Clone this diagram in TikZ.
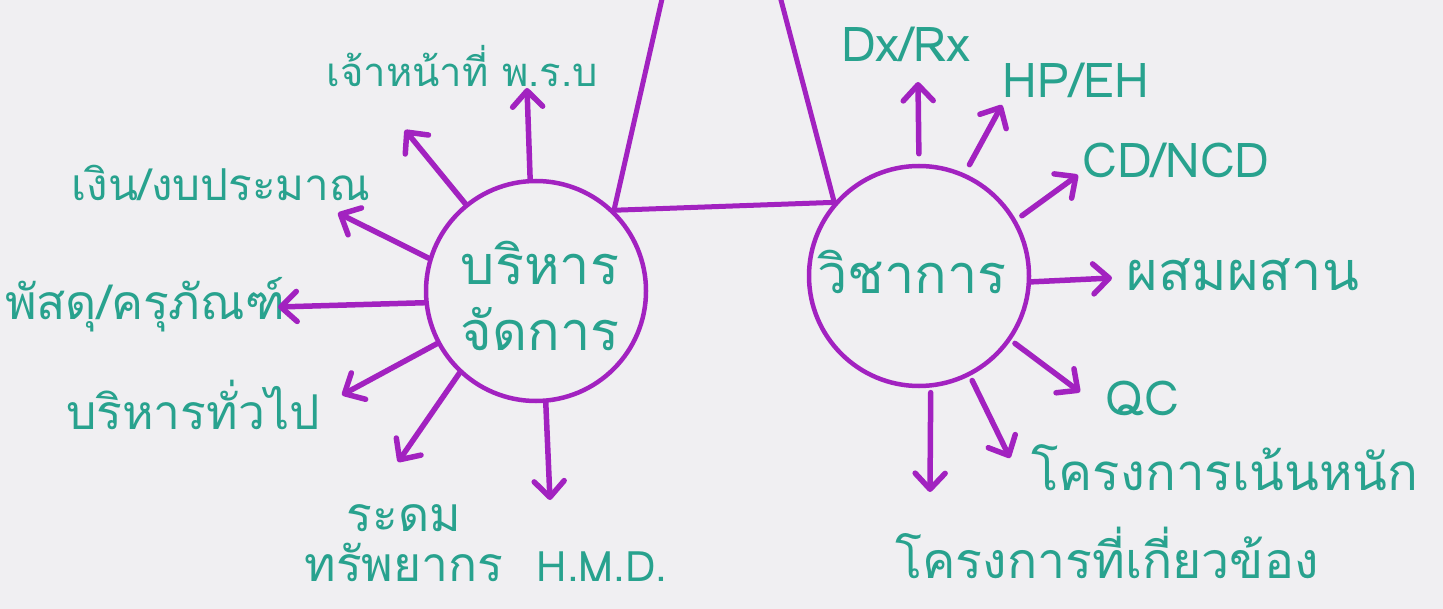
\documentclass[tikz,border=0pt]{standalone}
\usepackage{fontspec}
\newfontfamily\thai[Script=Thai]{Loma}
\usetikzlibrary{arrows.meta}
\definecolor{pen}{RGB}{162,34,192}
\definecolor{ink}{RGB}{40,162,142}
\definecolor{paper}{RGB}{240,239,242}
\tikzset{
  lab/.style={text=ink, font=\thai\fontsize{48}{60}\selectfont, inner sep=0pt},
  biglab/.style={text=ink, font=\thai\fontsize{54}{66}\selectfont, inner sep=0pt, align=center},
  hub/.style={draw=pen, line width=4.5pt, circle, minimum size=220pt, inner sep=0pt},
  spoke/.style={draw=pen, line width=5.5pt, line cap=round, line join=round,
    -{Straight Barb[length=16pt,width=30pt,line cap=round,line join=round]}},
  edge/.style={draw=pen, line width=5pt, line cap=round, line join=round}
}
\begin{document}
\begin{tikzpicture}[x=1pt,y=-1pt]
\fill[paper] (0,0) rectangle (1443,609);
\useasboundingbox (0,0) rectangle (1443,609);
\clip (0,0) rectangle (1443,609);
% hubs
\node[hub] (L) at (536,291) {};
\node[biglab] (Lt) at (540,296) {บริหาร\\จัดการ};
\node[hub] (R) at (919,276) {};
\node[biglab] (Rt) at (912,272) {วิชาการ};
% triangle
\coordinate (apex) at (717,-243);
\draw[edge] (L.46) -- (R.139);
\draw[edge] (L.46) -- (apex);
\draw[edge] (R.139) -- (apex);
% left labels
\node[lab,font=\thai\fontsize{40}{48}\selectfont] (l1) at (462,66) {เจ้าหน้าที่ พ.ร.บ};
\node[lab,font=\thai\fontsize{44}{56}\selectfont] (l2) at (221,183) {เงิน/งบประมาณ};
\node[lab] (l3) at (145,305) {พัสดุ/ครุภัณฑ์};
\node[lab] (l4) at (193,405) {บริหารทั่วไป};
\node[lab,align=center,font=\thai\fontsize{48}{50}\selectfont] (l5) at (404,543) {ระดม\\ทรัพยากร};
\node[lab,font=\thai\fontsize{42}{50}\selectfont] (l6) at (602,567) {H.M.D.};
% left arrow ends
\coordinate (e1) at (527,88);
\coordinate (e2) at (405,130);
\coordinate (e3) at (338,213);
\coordinate (e4) at (278,307);
\coordinate (e5) at (342,395);
\coordinate (e6) at (398,462);
\coordinate (e7) at (550,500);
\draw[spoke] (L.93) -- (e1);
\draw[spoke] (L.129) -- (e2);
\draw[spoke] (L.163) -- (e3);
\draw[spoke] (L.186) -- (e4);
\draw[spoke] (L.208) -- (e5);
\draw[spoke] (L.227) -- (e6);
\draw[spoke] (L.275) -- (e7);
% right labels
\node[lab] (r1) at (906,44) {Dx/Rx};
\node[lab] (r2) at (1076,80) {HP/EH};
\node[lab] (r3) at (1176,160) {CD/NCD};
\node[lab,font=\thai\fontsize{54}{60}\selectfont] (r4) at (1243,275) {ผสมผสาน};
\node[lab] (r5) at (1142,398) {QC};
\node[lab,font=\thai\fontsize{51}{60}\selectfont] (r6) at (1225,468) {โครงการเน้นหนัก};
\node[lab,font=\thai\fontsize{50}{60}\selectfont] (r7) at (1107,553) {โครงการที่เกี่ยวข้อง};
% right arrow ends
\coordinate (f1) at (918,82);
\coordinate (f2) at (1002,105);
\coordinate (f3) at (1078,175);
\coordinate (f4) at (1112,278);
\coordinate (f5) at (1080,392);
\coordinate (f6) at (1010,458);
\coordinate (f7) at (930,492);
\draw[spoke,shorten <=10pt] (R.90) -- (f1);
\draw[spoke,shorten <=10pt] (R.66) -- (f2);
\draw[spoke,shorten <=7pt] (R.30) -- (f3);
\draw[spoke] (R.-3) -- (f4);
\draw[spoke,shorten <=5pt] (R.-35) -- (f5);
\draw[spoke,shorten <=5pt] (R.-63) -- (f6);
\draw[spoke,shorten <=5pt] (R.-84) -- (f7);
\end{tikzpicture}
\end{document}
